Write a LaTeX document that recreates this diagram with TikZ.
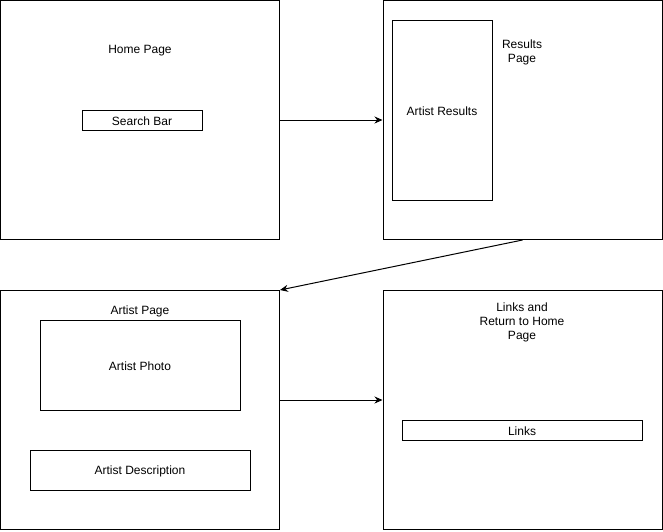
\documentclass[tikz,border=0pt]{standalone}
\usepackage{fontspec}
\setmainfont{Liberation Sans}
\usetikzlibrary{arrows.meta,calc}
\begin{document}
\begin{tikzpicture}[x=1pt,y=-1pt,
  box/.style={draw=black,line width=1pt,inner sep=0pt,fill=white},
  lbl/.style={inner sep=0pt,align=center,font=\fontsize{12}{14}\selectfont},
  conn/.style={draw=black,line width=1pt,-{Stealth[length=8pt,width=7pt]}}]
\useasboundingbox[fill=white] (0,0) rectangle (663,531);
% pages
\node[box,minimum width=279,minimum height=239] (home) at (140,120) {};
\node[box,minimum width=279,minimum height=239] (results) at (522.5,120) {};
\node[box,minimum width=279,minimum height=239] (artist) at (140,410) {};
\node[box,minimum width=279,minimum height=239] (links) at (522.5,410) {};
% inner boxes
\node[box,minimum width=120,minimum height=20] (search) at (142,120) {};
\node[box,minimum width=100,minimum height=180] (ares) at (442,110) {};
\node[box,minimum width=200,minimum height=90] (photo) at (140,365) {};
\node[box,minimum width=220,minimum height=40] (desc) at (140,470) {};
\node[box,minimum width=240,minimum height=20] (lk) at (522,430) {};
% labels
\node[lbl] (homet) at (140,51) {Home Page};
\node[lbl] (searcht) at (142,121) {Search Bar};
\node[lbl] (rest) at (522,52) {Results\\Page};
\node[lbl] (arest) at (442,111) {Artist Results};
\node[lbl] (artt) at (140,311) {Artist Page};
\node[lbl] (photot) at (140,366) {Artist Photo};
\node[lbl] (desct) at (140,471) {Artist Description};
\node[lbl] (linkst) at (522,322) {Links and\\Return to Home\\Page};
\node[lbl] (lkt) at (522,431) {Links};
% connectors
\draw[conn] (home.east) -- (results.west);
\draw[conn] (results.south) -- (artist.north east);
\draw[conn] ($(artist.north east)+(0,110)$) -- ($(links.north west)+(0,110)$);
\end{tikzpicture}
\end{document}
